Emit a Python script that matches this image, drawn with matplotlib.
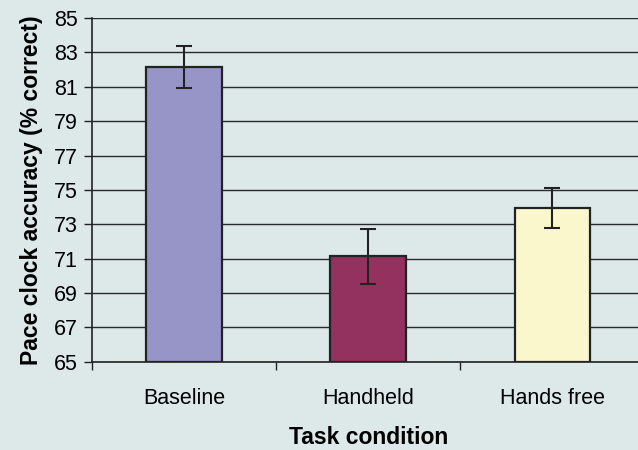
import matplotlib.pyplot as plt
import numpy as np

plt.rcParams['font.family'] = ['Liberation Sans', 'DejaVu Sans']

# data
conditions = ['Baseline', 'Handheld', 'Hands free']
accuracy = [82.15, 71.13, 73.95]
errors = [1.22, 1.6, 1.15]
bar_colors = ['#9794c8', '#93325e', '#faf7cc']
y_ticks = [65, 67, 69, 71, 73, 75, 77, 79, 81, 83, 85]

bg = '#dde8e8'
fig = plt.figure(figsize=(6.38, 4.5), dpi=100, facecolor=bg)
ax = fig.add_axes([0.144, 0.196, 0.866, 0.764], facecolor=bg)

x = np.arange(len(conditions))
ax.bar(x, np.array(accuracy) - 65, bottom=65, width=0.41, color=bar_colors,
       edgecolor='#222222', linewidth=1.6, zorder=3)
ax.errorbar(x, accuracy, yerr=errors, fmt='none', ecolor='#222222',
            elinewidth=1.5, capsize=5.8, capthick=1.5, zorder=4)

ax.set_ylim(65, 85)
ax.set_xlim(-0.5, 2.5)
ax.set_yticks(y_ticks)
ax.set_yticklabels([str(t) for t in y_ticks])
for t in y_ticks:
    ax.axhline(t, color='#2a2a2a', linewidth=1.0, zorder=1)

# category boundary ticks on x axis, labels centered under bars
ax.set_xticks([-0.5, 0.5, 1.5, 2.5])
ax.set_xticklabels([])
ax.set_xticks(x, minor=True)
ax.set_xticklabels(conditions, minor=True, fontsize=15.5)
ax.tick_params(axis='x', which='minor', length=0, pad=19)
ax.tick_params(axis='x', which='major', length=6, width=1, color='#222222')
ax.tick_params(axis='y', length=6, width=1, color='#222222', labelsize=15.5, pad=4)

for side in ['top', 'right']:
    ax.spines[side].set_visible(False)
ax.spines['left'].set_color('#222222')
ax.spines['bottom'].set_color('#222222')
ax.spines['left'].set_linewidth(1.2)
ax.spines['bottom'].set_linewidth(1.2)

ax.set_xlabel('Task condition', fontsize=16.5, fontweight='bold', labelpad=12)
ax.set_ylabel('Pace clock accuracy (% correct)', fontsize=16.5, fontweight='bold', labelpad=8)

fig.savefig('out.png', dpi=100, facecolor=bg)
